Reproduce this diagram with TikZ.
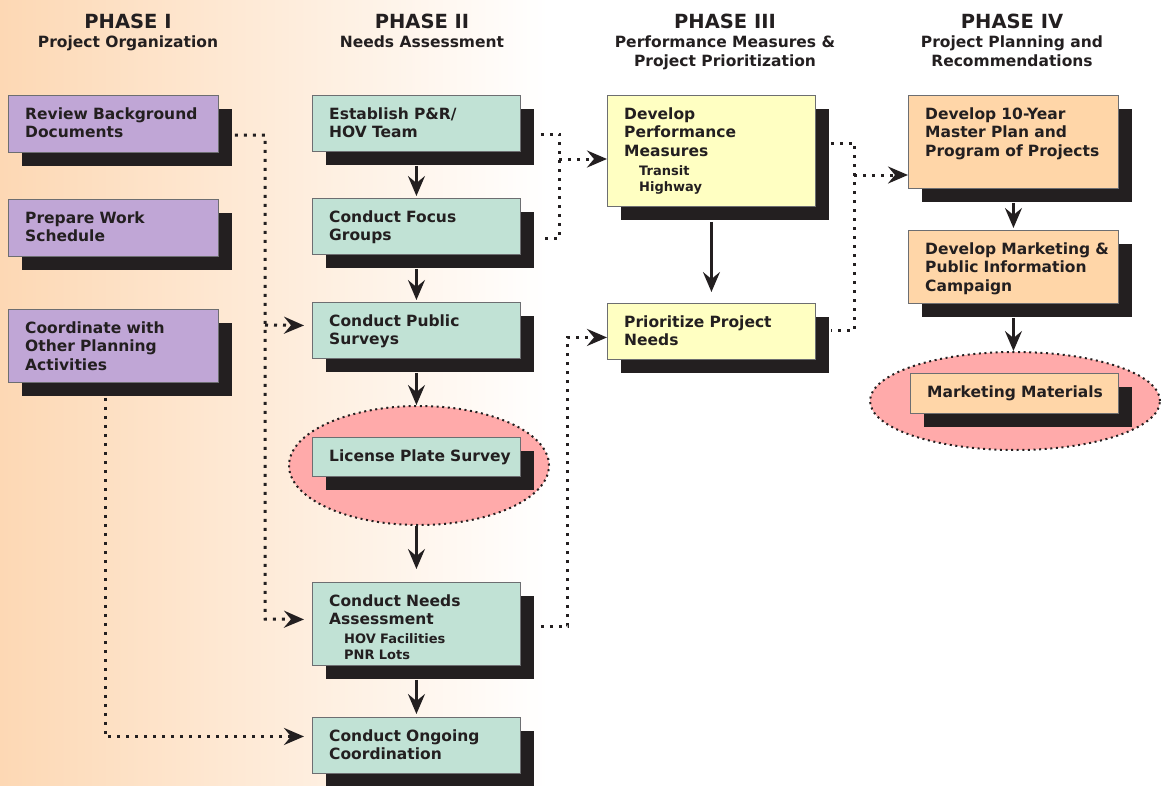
\documentclass[tikz,border=0pt]{standalone}
\usepackage{fontspec}
\setmainfont{DejaVu Sans}
\usetikzlibrary{arrows.meta,calc,shapes.geometric}
\definecolor{ink}{HTML}{231F20}
\definecolor{shadowc}{HTML}{231F20}
\definecolor{purp}{HTML}{C0A6D6}
\definecolor{mint}{HTML}{C1E2D5}
\definecolor{lemon}{HTML}{FFFFC2}
\definecolor{peachbox}{HTML}{FFD6A8}
\definecolor{pinkc}{HTML}{FFAAAA}
\definecolor{bgpeach}{HTML}{FDD8B4}
\definecolor{bord}{HTML}{6D6E71}
\newcommand\mkbox[7]{%
  \fill[shadowc] (#3+14,#4+14) rectangle ++(#5,#6);
  \node[boxst, fill=#2, minimum width=#5pt, minimum height=#6pt] (#1) at (#3,#4) {};
  \node[txt] (#1t) at (#3+17,#4+24) {#7};
}
\begin{document}
\begin{tikzpicture}[x=1pt,y=-1pt,
  boxst/.style={draw=bord, line width=0.9pt, inner sep=0pt, anchor=north west},
  txt/.style={anchor=base west, inner sep=0pt, align=left, text width=200pt, font=\bfseries\fontsize{15.5}{18.5}\selectfont, text=ink},
  subtxt/.style={txt, font=\bfseries\fontsize{13}{16}\selectfont},
  hdr/.style={anchor=base, inner sep=0pt, font=\bfseries\fontsize{19.5}{22}\selectfont, text=ink},
  subhdr/.style={anchor=base, inner sep=0pt, font=\bfseries\fontsize{15.5}{19}\selectfont, text=ink},
  solidarr/.style={line width=2.4pt, draw=ink, -{Stealth[length=20pt,width=17pt,inset=7pt]}},
  dotline/.style={line width=3pt, draw=ink, dash pattern=on 3pt off 6pt},
  dotarr/.style={dotline, -{Stealth[length=20pt,width=17pt,inset=7pt]}},
  ell/.style={ellipse, fill=pinkc, draw=ink, line width=2pt, dash pattern=on 2pt off 3.6pt, inner sep=0pt}
]
\shade[left color=bgpeach, right color=white] (0,0) rectangle (548,785);
\useasboundingbox (0,0) rectangle (1162,785);

% headers
\node[hdr] (h1) at (128,28) {PHASE I};
\node[subhdr] (h1s) at (128,47) {Project Organization};
\node[hdr] (h2) at (422,28) {PHASE II};
\node[subhdr] (h2s) at (422,47) {Needs Assessment};
\node[hdr] (h3) at (725,28) {PHASE III};
\node[subhdr] (h3s) at (725,47) {Performance Measures \&};
\node[subhdr] (h3s2) at (725,66) {Project Prioritization};
\node[hdr] (h4) at (1012,28) {PHASE IV};
\node[subhdr] (h4s) at (1012,47) {Project Planning and};
\node[subhdr] (h4s2) at (1012,66) {Recommendations};

% ellipses
\node[ell, minimum width=260pt, minimum height=119pt] (e4ell) at (419,465.5) {};
\node[ell, minimum width=290pt, minimum height=98pt] (f3ell) at (1015,401) {};

% Phase I
\mkbox{r1}{purp}{8}{95}{210}{57}{Review Background\\Documents}
\mkbox{r2}{purp}{8}{199}{210}{57}{Prepare Work\\Schedule}
\mkbox{r3}{purp}{8}{309}{210}{73}{Coordinate with\\Other Planning\\Activities}
% Phase II
\mkbox{e1}{mint}{312}{95}{208}{56}{Establish P\&R/\\HOV Team}
\mkbox{e2}{mint}{312}{198}{208}{56}{Conduct Focus\\Groups}
\mkbox{e3}{mint}{312}{302}{208}{56}{Conduct Public\\Surveys}
\mkbox{e4}{mint}{312}{437}{208}{39}{License Plate Survey}
\mkbox{e5}{mint}{312}{582}{208}{83}{Conduct Needs\\Assessment}
\node[subtxt] (e5s) at (344,643) {HOV Facilities\\PNR Lots};
\mkbox{e6}{mint}{312}{717}{208}{56}{Conduct Ongoing\\Coordination}
% Phase III
\mkbox{p1}{lemon}{607}{95}{208}{111}{Develop\\Performance\\Measures}
\node[subtxt] (p1s) at (639,175) {Transit\\Highway};
\mkbox{p2}{lemon}{607}{303}{208}{56}{Prioritize Project\\Needs}
% Phase IV
\mkbox{f1}{peachbox}{908}{95}{210}{93}{Develop 10-Year\\Master Plan and\\Program of Projects}
\mkbox{f2}{peachbox}{908}{230}{210}{73}{Develop Marketing \&\\Public Information\\Campaign}
\mkbox{f3}{peachbox}{910}{373}{208}{40}{Marketing Materials}

% solid arrows
\draw[solidarr] ($(e1.south)+(0,14)$) -- ($(e2.north)+(0,-2)$);
\draw[solidarr] ($(e2.south)+(0,14)$) -- ($(e3.north)+(0,-2)$);
\draw[solidarr] ($(e3.south)+(0,14)$) -- (e3.south |- e4ell.north);
\draw[solidarr] (e3.south |- e4ell.south) -- ($(e5.north)+(0,-13)$);
\draw[solidarr] ($(e5.south)+(0,14)$) -- ($(e6.north)+(0,-3)$);
\draw[solidarr] ($(p1.south)+(0,15)$) -- ($(p2.north)+(0,-11)$);
\draw[solidarr] ($(f1.south)+(0,14)$) -- ($(f2.north)+(0,-2)$);
\draw[solidarr] ($(f2.south)+(0,14)$) -- (f2.south |- f3ell.north);

% dotted connectors
\coordinate (a0) at ($(r1.north east)+(16,40)$);
\coordinate (a3) at (265,325);
\draw[dotarr] (a0) -- (265,135) -- (265,619) -- ($(e5.west)+(-8,-4.5)$);
\draw[dotarr] (a3) -- ($(e3.west)+(-8,-5)$);

\coordinate (b0) at ($(r3.south west)+(97,15)$);
\coordinate (b1) at ($(e6.west)+(-8,-9)$);
\draw[dotarr] (b0) |- (b1);

\coordinate (c0) at ($(e1.north east)+(20,39)$);
\coordinate (c1) at ($(e2.north east)+(20,40)$);
\draw[dotline] (c0) -- ++(19,0) |- (c1);
\coordinate (c2) at (559,159);
\draw[dotarr] (c2) -- (c2 -| p1.west);

\coordinate (d0) at ($(e5.north east)+(20,44)$);
\coordinate (d1) at ($(p2.west)+(0,6)$);
\draw[dotarr] (d0) -- ++(27,0) |- (d1);

\coordinate (g0) at ($(p1.north east)+(15,48)$);
\coordinate (g1) at ($(p2.north east)+(15,27)$);
\draw[dotline] (g0) -- ++(24,0) |- (g1);
\coordinate (g2) at (854,175);
\draw[dotarr] (g2) -- (g2 -| f1.west);
\end{tikzpicture}
\end{document}
